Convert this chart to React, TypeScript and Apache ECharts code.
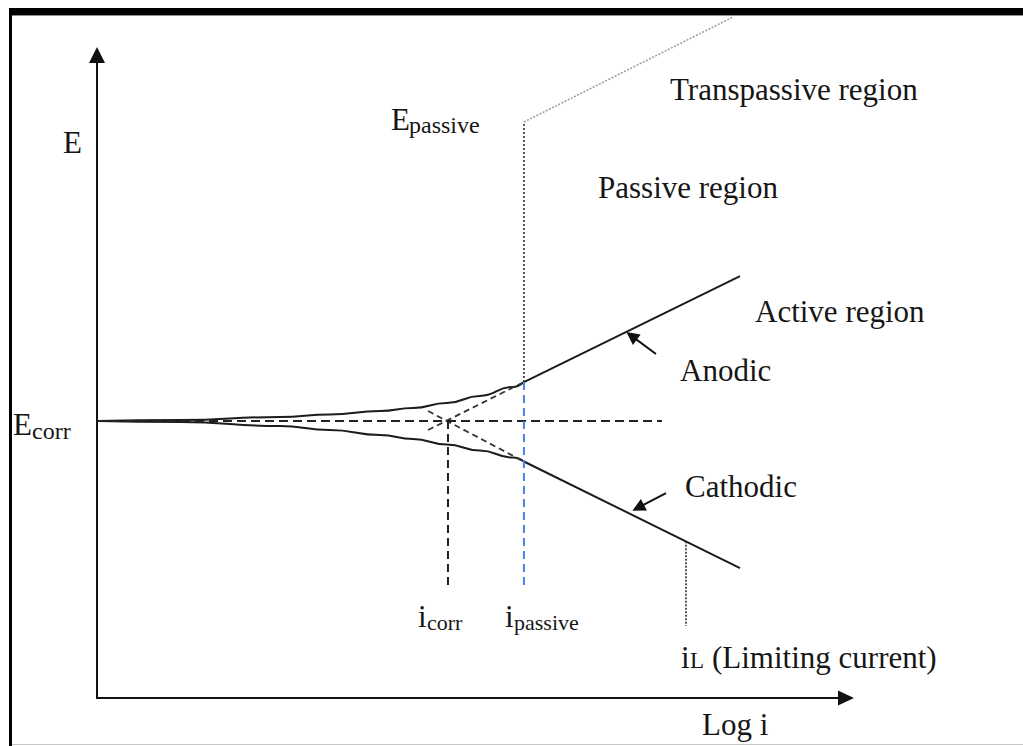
import React, { useEffect, useRef } from "react";
import * as echarts from "echarts";

// Polarization curve (schematic): x = log i, y = E (arbitrary units)
const curveLogI = [0, 11.1, 24.4, 31.1, 37.8, 42.2, 46.7, 51.1, 55.5, 57.0];
const anodicCurveE = [43.08, 43.23, 43.7, 44.09, 44.63, 45.1, 45.88, 46.97, 48.37, 49.14];
const cathodicCurveE = [43.08, 42.92, 42.3, 41.68, 40.9, 40.28, 39.42, 38.48, 37.4, 36.78];
const tafelLogI = [57.0, 85.85];
const anodicTafelE = [49.14, 65.6];
const cathodicTafelE = [36.78, 20.2];
const extrapLogI = [44.2, 57.0];
const anodicExtrapE = [41.68, 49.14];
const cathodicExtrapE = [44.63, 36.78];
const eCorr = 43.08;
const eCorrLineEnd = 75.43;
const iCorr = 46.86;
const iPassive = 57.0;
const iLimit = 78.64;
const dropLineBottom = 17.57;
const ePassive = 89.58;
const transpassiveEnd = [84.91, 105.9];
const iLimitRange = [24.36, 11.2];
const anodicArrow = [[74.63, 53.5], [71.37, 56.31]];
const cathodicArrow = [[75.97, 31.88], [72.25, 29.6]];

// [text, left x, baseline y, fontSize]
const labels: [string, number, number, number][] = [
  ["E", 63, 153, 31],
  ["E", 13, 435, 31],
  ["corr", 32, 439, 24],
  ["E", 391, 130, 31],
  ["passive", 409, 133, 24],
  ["Transpassive region", 670, 100, 31],
  ["Passive region", 598, 198, 31],
  ["Active region", 755, 322, 31],
  ["Anodic", 680, 381, 31],
  ["Cathodic", 685, 497, 31],
  ["i", 418, 627, 31],
  ["corr", 427, 630, 22],
  ["i", 505, 627, 31],
  ["passive", 514, 630, 22],
  ["i", 681, 668, 31],
  ["L", 690, 668, 23],
  ["(Limiting current)", 712, 668, 31],
  ["Log i", 702, 735, 31],
];

const zip = (xs: number[], ys: number[]) => xs.map((x, i) => [x, ys[i]]);

export default function App() {
  const ref = useRef<HTMLDivElement>(null);
  useEffect(() => {
    if (!ref.current) return;
    const chart = echarts.init(ref.current, null, { renderer: "svg" });
    const ink = "#1c1c1c";
    const font = '"Liberation Serif", "Times New Roman", serif';
    const lineSeries = (data: number[][], style: any, extra: any = {}) => ({
      type: "line",
      data,
      showSymbol: false,
      symbol: "none",
      silent: true,
      lineStyle: { color: ink, width: 2, ...style },
      ...extra,
    });
    const texts = labels.map(([t, x, b, fs]) => ({
      type: "text",
      x,
      y: b - 0.3375 * fs,
      z: 20,
      style: { text: t, fontSize: fs, fontFamily: font, fill: "#161616", align: "left", verticalAlign: "middle" },
    }));
    const option: any = {
      animation: false,
      backgroundColor: "#ffffff",
      grid: { left: 97, right: 177, top: 55, bottom: 48, containLabel: false },
      xAxis: {
        type: "value",
        min: 0,
        max: 100,
        axisLine: { show: true, onZero: false, symbol: ["none", "triangle"], symbolSize: [15, 16], lineStyle: { color: "#111", width: 2 } },
        axisTick: { show: false },
        axisLabel: { show: false },
        splitLine: { show: false },
      },
      yAxis: {
        type: "value",
        min: 0,
        max: 100,
        axisLine: { show: true, onZero: false, symbol: ["none", "triangle"], symbolSize: [16, 16], lineStyle: { color: "#111", width: 2 } },
        axisTick: { show: false },
        axisLabel: { show: false },
        splitLine: { show: false },
      },
      series: [
        lineSeries(zip(curveLogI, anodicCurveE), {}, { smooth: 0.5, smoothMonotone: "x" }),
        lineSeries(zip(curveLogI, cathodicCurveE), {}, { smooth: 0.5, smoothMonotone: "x" }),
        lineSeries(zip(tafelLogI, anodicTafelE), {}),
        lineSeries(zip(tafelLogI, cathodicTafelE), {}),
        lineSeries(zip(extrapLogI, anodicExtrapE), { type: [6, 4], width: 1.8, color: "#333" }),
        lineSeries(zip(extrapLogI, cathodicExtrapE), { type: [6, 4], width: 1.8, color: "#333" }),
        lineSeries([[0, eCorr], [eCorrLineEnd, eCorr]], { type: [9, 5], width: 2, color: "#222" }),
        lineSeries([[iCorr, eCorr], [iCorr, dropLineBottom]], { type: [8, 5], width: 2, color: "#222" }),
        lineSeries([[iPassive, anodicCurveE[anodicCurveE.length - 1]], [iPassive, dropLineBottom]], { type: [8, 5], width: 2, color: "#4c7ff0" }),
        lineSeries([[iPassive, anodicCurveE[anodicCurveE.length - 1]], [iPassive, ePassive]], { type: [2, 2], width: 1.5, color: "#222" }),
        lineSeries([[iPassive, ePassive], transpassiveEnd], { type: [2, 1.5], width: 1.5, color: "#9a9a9a" }, { clip: false }),
        lineSeries([[iLimit, iLimitRange[0]], [iLimit, iLimitRange[1]]], { type: [2, 1.5], width: 1.5, color: "#222" }),
        {
          type: "lines",
          coordinateSystem: "cartesian2d",
          silent: true,
          symbol: ["none", "triangle"],
          symbolSize: 13,
          lineStyle: { color: "#111", width: 2, opacity: 1 },
          data: [{ coords: anodicArrow }, { coords: cathodicArrow }],
        },
      ],
      graphic: [
        { type: "rect", shape: { x: 9, y: 8, width: 1014, height: 7 }, style: { fill: "#000" }, z: 30 },
        { type: "rect", shape: { x: 9, y: 15, width: 1014, height: 1 }, style: { fill: "#8a8a8a" }, z: 30 },
        { type: "rect", shape: { x: 9, y: 8, width: 3, height: 738 }, style: { fill: "#000" }, z: 30 },
        { type: "rect", shape: { x: 12, y: 744, width: 1011, height: 1 }, style: { fill: "#c8c8c8" }, z: 30 },
        ...texts,
      ],
    };
    chart.setOption(option);
    return () => chart.dispose();
  }, []);
  return <div ref={ref} style={{ position: "absolute", left: 0, top: 0, width: 1023, height: 746 }} />;
}
